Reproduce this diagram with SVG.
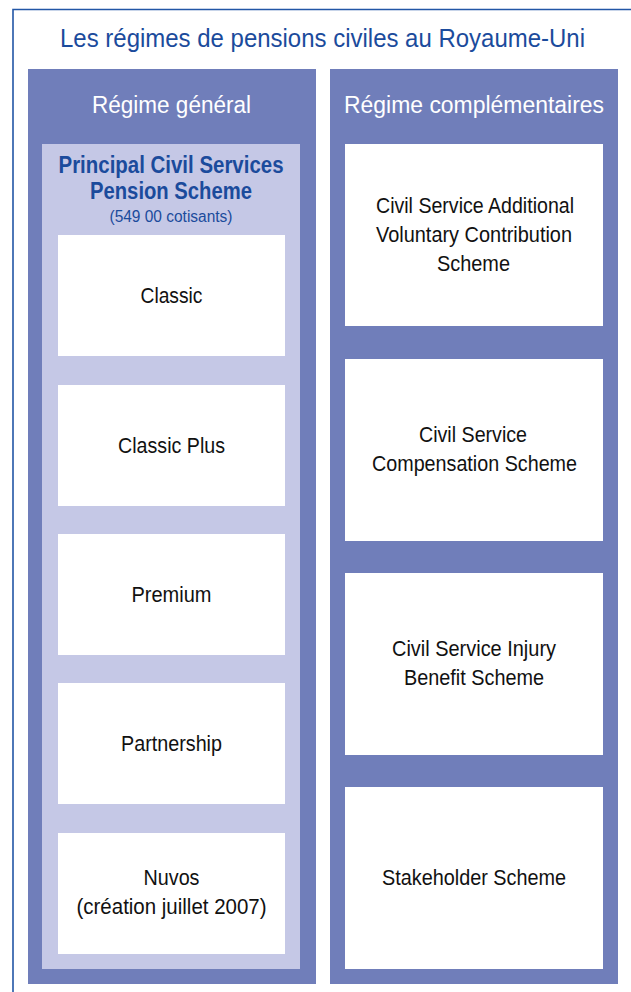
<svg xmlns="http://www.w3.org/2000/svg" width="631" height="992" viewBox="0 0 631 992">
<style>
.frame{fill:none;stroke:#2256a6;stroke-width:1.6}
.dark{fill:#707eba}
.light{fill:#c5c8e6}
.box{fill:#ffffff}
text{font-family:"Liberation Sans",Arial,sans-serif;text-anchor:middle}
.title{font-size:26px;fill:#1b4b9c}
.head{font-size:23.5px;fill:#ffffff}
.bt{font-size:23px;font-weight:bold;fill:#1b4b9c}
.sub{font-size:16px;fill:#1b4b9c}
.lbl{font-size:22px;fill:#111111}
</style>
<rect width="631" height="992" fill="#ffffff"/>
<path class="frame" d="M13,992 V9.5 H631"/>
<text class="title" x="322.5" y="46.5" textLength="525" lengthAdjust="spacingAndGlyphs">Les régimes de pensions civiles au Royaume-Uni</text>

<g id="regime-general">
<rect class="dark" x="28" y="69" width="288" height="915"/>
<text class="head" x="171.5" y="112.5" textLength="159" lengthAdjust="spacingAndGlyphs">Régime général</text>
</g>
<g id="pcsps">
<rect class="light" x="42" y="144" width="258" height="825"/>
<text class="bt" x="171" y="172.5" textLength="225" lengthAdjust="spacingAndGlyphs">Principal Civil Services</text>
<text class="bt" x="171" y="198.5" textLength="162" lengthAdjust="spacingAndGlyphs">Pension Scheme</text>
<text class="sub" x="171" y="221.5" textLength="123" lengthAdjust="spacingAndGlyphs">(549 00 cotisants)</text>
</g>
<g id="classic">
<rect class="box" x="58" y="235" width="227" height="121"/>
<text class="lbl" x="171.5" y="302.5" textLength="62" lengthAdjust="spacingAndGlyphs">Classic</text>
</g>
<g id="classic-plus">
<rect class="box" x="58" y="385" width="227" height="121"/>
<text class="lbl" x="171.5" y="452.5" textLength="107" lengthAdjust="spacingAndGlyphs">Classic Plus</text>
</g>
<g id="premium">
<rect class="box" x="58" y="534" width="227" height="121"/>
<text class="lbl" x="171.5" y="601.5" textLength="80" lengthAdjust="spacingAndGlyphs">Premium</text>
</g>
<g id="partnership">
<rect class="box" x="58" y="683" width="227" height="121"/>
<text class="lbl" x="171.5" y="751" textLength="101" lengthAdjust="spacingAndGlyphs">Partnership</text>
</g>
<g id="nuvos">
<rect class="box" x="58" y="833" width="227" height="121"/>
<text class="lbl" x="171.5" y="885" textLength="56" lengthAdjust="spacingAndGlyphs">Nuvos</text>
<text class="lbl" x="171.5" y="914" textLength="190" lengthAdjust="spacingAndGlyphs">(création juillet 2007)</text>
</g>

<g id="regime-complementaires">
<rect class="dark" x="330" y="69" width="288" height="915"/>
<text class="head" x="474" y="112.5" textLength="260" lengthAdjust="spacingAndGlyphs">Régime complémentaires</text>
</g>
<g id="avc">
<rect class="box" x="345" y="144" width="258" height="182"/>
<text class="lbl" x="475" y="213" textLength="198" lengthAdjust="spacingAndGlyphs">Civil Service Additional</text>
<text class="lbl" x="474" y="242" textLength="196" lengthAdjust="spacingAndGlyphs">Voluntary Contribution</text>
<text class="lbl" x="473.5" y="271" textLength="73" lengthAdjust="spacingAndGlyphs">Scheme</text>
</g>
<g id="compensation">
<rect class="box" x="345" y="359" width="258" height="182"/>
<text class="lbl" x="473" y="442" textLength="108" lengthAdjust="spacingAndGlyphs">Civil Service</text>
<text class="lbl" x="474.5" y="471" textLength="205" lengthAdjust="spacingAndGlyphs">Compensation Scheme</text>
</g>
<g id="injury">
<rect class="box" x="345" y="573" width="258" height="182"/>
<text class="lbl" x="474" y="656" textLength="164" lengthAdjust="spacingAndGlyphs">Civil Service Injury</text>
<text class="lbl" x="474" y="685" textLength="140" lengthAdjust="spacingAndGlyphs">Benefit Scheme</text>
</g>
<g id="stakeholder">
<rect class="box" x="345" y="787" width="258" height="182"/>
<text class="lbl" x="474" y="885" textLength="184" lengthAdjust="spacingAndGlyphs">Stakeholder Scheme</text>
</g>
<g id="connectors"></g>
</svg>
